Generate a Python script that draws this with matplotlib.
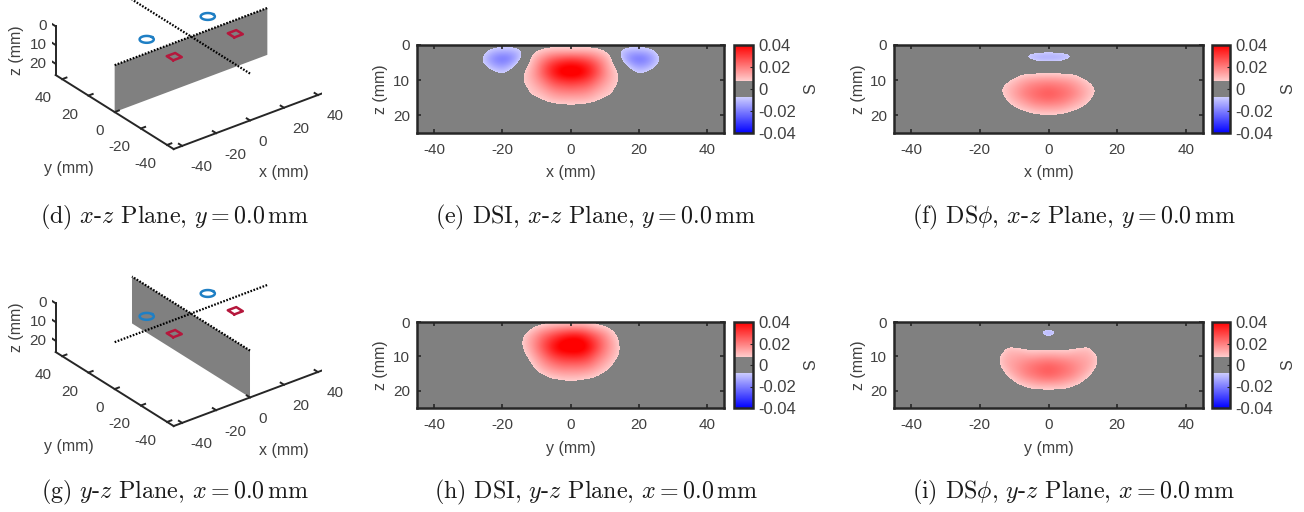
import numpy as np
import matplotlib
matplotlib.use('Agg')
import matplotlib.pyplot as plt
from matplotlib.colors import LinearSegmentedColormap, Normalize
from matplotlib.cm import ScalarMappable
from mpl_toolkits.mplot3d import proj3d

W, H = 1304, 512
plt.rcParams['font.family'] = ['Liberation Sans', 'DejaVu Sans']
plt.rcParams['mathtext.fontset'] = 'cm'
plt.rcParams['axes.unicode_minus'] = False

# sensitivity, in 1e-3 S
x_main = [-16, -14, -12, -10, -8, -6, -4, -2, 0, 2, 4, 6, 8, 10, 12, 14, 16]
z_main = [0, 2, 4, 6, 8, 10, 12, 14, 16, 18, 20]

dsi_xz_main = [
    [0, 1, 2, 3, 4, 4, 4, 4, 4, 4, 4, 4, 4, 3, 2, 1, 0],
    [1, 3, 5, 8, 11, 13, 14, 14, 14, 14, 14, 13, 11, 8, 5, 3, 1],
    [1, 4, 8, 14, 19, 24, 27, 29, 30, 29, 27, 24, 19, 14, 8, 4, 1],
    [1, 5, 10, 17, 25, 32, 37, 40, 41, 40, 37, 32, 25, 17, 10, 5, 1],
    [2, 7, 12, 18, 26, 33, 39, 43, 44, 43, 39, 33, 26, 18, 12, 7, 2],
    [2, 8, 11, 16, 21, 27, 31, 33, 34, 33, 31, 27, 21, 16, 11, 8, 2],
    [1, 6, 9, 12, 16, 20, 23, 24, 25, 24, 23, 20, 16, 12, 9, 6, 1],
    [0, 3, 8, 9, 11, 14, 16, 17, 17, 17, 16, 14, 11, 9, 8, 3, 0],
    [0, 1, 3, 5, 7, 9, 10, 10, 10, 10, 10, 9, 7, 5, 3, 1, 0],
    [0, 0, 0, 0, 1, 2, 3, 4, 5, 4, 3, 2, 1, 0, 0, 0, 0],
    [0, 0, 0, 0, 0, 0, 0, 0, 0, 0, 0, 0, 0, 0, 0, 0, 0],
]
x_lobe_left = [-28, -26, -24, -22, -20, -18, -16, -14, -12]
x_lobe_right = [12, 14, 16, 18, 20, 22, 24, 26, 28]
z_lobe = [0, 2, 4, 6, 8, 10]
dsi_xz_lobe_left = [
    [0, -1, -3, -4, -4, -4, -4, -3, -1],
    [-1, -5, -10, -13, -14, -14, -12, -8, -2],
    [-2, -8, -15, -20, -22, -20, -14, -5, -1],
    [-1, -5, -10, -14, -15, -12, -6, -2, 0],
    [0, -1, -3, -6, -8, -5, -2, 0, 0],
    [0, 0, 0, -1, -1, 0, 0, 0, 0],
]
dsi_xz_lobe_right = [
    [-1, -3, -4, -4, -4, -4, -3, -1, 0],
    [-2, -8, -12, -14, -14, -13, -10, -5, -1],
    [-1, -5, -14, -20, -22, -20, -15, -8, -2],
    [0, -2, -6, -12, -15, -14, -10, -5, -1],
    [0, 0, -2, -5, -8, -6, -3, -1, 0],
    [0, 0, 0, 0, -1, -1, 0, 0, 0],
]

z_deep = [6, 8, 10, 12, 14, 16, 18, 20, 22]
dsphi_xz_main = [
    [0, 0, 0, 1, 1, 1, 1, 1, 1, 1, 1, 1, 1, 1, 0, 0, 0],
    [0, 0, 1, 3, 5, 6, 6, 6, 6, 6, 6, 6, 5, 3, 1, 0, 0],
    [0, 2, 6, 9, 12, 14, 15, 16, 16, 16, 15, 14, 12, 9, 6, 2, 0],
    [1, 7, 10, 13, 16, 19, 21, 22, 23, 22, 21, 19, 16, 13, 10, 7, 1],
    [1, 7, 10, 14, 18, 21, 23, 25, 26, 25, 23, 21, 18, 14, 10, 7, 1],
    [0, 3, 8, 11, 14, 17, 20, 21, 22, 21, 20, 17, 14, 11, 8, 3, 0],
    [0, 0, 3, 7, 9, 11, 13, 14, 14, 14, 13, 11, 9, 7, 3, 0, 0],
    [0, 0, 0, 1, 3, 5, 6, 7, 7, 7, 6, 5, 3, 1, 0, 0, 0],
    [0, 0, 0, 0, 0, 0, 0, 1, 2, 1, 0, 0, 0, 0, 0, 0, 0],
]
x_spot = [-8, -6, -4, -2, 0, 2, 4, 6, 8]
z_spot = [1, 2, 3, 4, 5, 6]
dsphi_xz_spot = [
    [0, 0, 0, -1, -1, -1, 0, 0, 0],
    [-1, -3, -6, -6, -7, -6, -6, -3, -1],
    [-5, -9, -10, -11, -11, -11, -10, -9, -5],
    [-3, -7, -10, -11, -11, -11, -10, -7, -3],
    [-1, -3, -5, -6, -6, -6, -5, -3, -1],
    [0, 0, 0, 0, 0, 0, 0, 0, 0],
]

dsi_yz_main = [
    [0, 0, 1, 2, 3, 5, 5, 6, 6, 6, 6, 5, 3, 2, 1, 0, 0],
    [0, 3, 6, 10, 13, 15, 17, 18, 19, 19, 18, 15, 12, 10, 6, 3, 0],
    [1, 7, 12, 17, 22, 26, 30, 33, 35, 35, 32, 27, 22, 17, 11, 6, 1],
    [2, 9, 14, 20, 27, 33, 38, 42, 44, 44, 40, 34, 27, 20, 14, 8, 1],
    [2, 8, 13, 20, 27, 34, 40, 43, 44, 44, 41, 35, 27, 20, 14, 9, 2],
    [1, 5, 10, 16, 22, 28, 32, 34, 35, 35, 33, 28, 22, 17, 12, 8, 1],
    [0, 3, 7, 12, 17, 21, 24, 26, 26, 26, 25, 22, 17, 13, 9, 4, 0],
    [0, 1, 4, 8, 12, 15, 17, 18, 18, 18, 17, 15, 12, 9, 6, 2, 0],
    [0, 0, 2, 4, 6, 9, 10, 11, 11, 11, 10, 9, 7, 4, 2, 0, 0],
    [0, 0, 0, 1, 2, 3, 4, 5, 5, 5, 4, 3, 2, 1, 0, 0, 0],
    [0, 0, 0, 0, 0, 0, 0, 0, 0, 0, 0, 0, 0, 0, 0, 0, 0],
]

dsphi_yz_main = [
    [0, 2, 3, 2, 1, 1, 0, 0, 0, 0, 0, 1, 1, 2, 3, 2, 0],
    [0, 3, 10, 10, 9, 7, 7, 7, 7, 7, 7, 7, 9, 10, 10, 3, 0],
    [1, 9, 12, 13, 14, 14, 14, 15, 15, 15, 14, 14, 14, 13, 12, 9, 1],
    [1, 9, 13, 15, 17, 19, 21, 22, 23, 22, 21, 19, 17, 15, 13, 9, 1],
    [0, 6, 11, 15, 18, 21, 23, 25, 26, 25, 23, 21, 18, 15, 11, 6, 0],
    [0, 2, 7, 11, 15, 18, 20, 22, 23, 22, 20, 18, 15, 11, 7, 2, 0],
    [0, 0, 2, 6, 9, 11, 13, 14, 14, 14, 13, 11, 9, 6, 2, 0, 0],
    [0, 0, 0, 1, 3, 5, 6, 6, 6, 6, 6, 5, 3, 1, 0, 0, 0],
    [0, 0, 0, 0, 0, 0, 0, 1, 1, 1, 0, 0, 0, 0, 0, 0, 0],
]
x_dot = [-4, -3, -2, -1, 0, 1, 2, 3, 4]
z_dot = [1, 2, 3, 4, 5]
dsphi_yz_dot = [
    [0, 0, 0, 0, 0, 0, 0, 0, 0],
    [0, 0, -3, -5, -6, -5, -3, 0, 0],
    [0, -4, -8, -10, -11, -10, -8, -4, 0],
    [0, -2, -6, -8, -9, -8, -6, -2, 0],
    [0, 0, -1, -2, -3, -2, -1, 0, 0],
]

# electrodes on the surface
ring_x = [-18, 18]
ring_y = [10.5, 10.5]
square_x = [-18, 18]
square_y = [-10.5, -10.5]

map_ticks = [-40, -20, 0, 20, 40]
depth_ticks = [0, 10, 20]
cbar_ticks = [-0.04, -0.02, 0, 0.02, 0.04]
threshold = 0.0076
# the z axis of the 3d views sits a little above the plane top
z_axis_shift = 1

text_col = '#404040'
frame_col = '#262626'
low = 0.5 - threshold / 0.08
high = 0.5 + threshold / 0.08
cmap = LinearSegmentedColormap.from_list('gapped', [
    (0, '#0000ff'), (low, '#ccccff'), (low, '#808080'),
    (high, '#808080'), (high, '#ffcccc'), (1, '#ff0000')], N=1024)
norm = Normalize(-0.04, 0.04)

fig = plt.figure(figsize=(W / 100, H / 100), dpi=100)


def px_axes(left, top, width, height, **kw):
    return fig.add_axes([left / W, 1 - (top + height) / H, width / W, height / H], **kw)


def px_text(x, y, s, **kw):
    kw.setdefault('color', text_col)
    kw.setdefault('fontsize', 11.5)
    kw.setdefault('ha', 'center')
    kw.setdefault('va', 'center')
    fig.text(x / W, 1 - y / H, s, **kw)


def merge_tables(xs, zs, parts):
    # all parts sit on the same 2 mm grid, the stronger value wins
    grid = np.zeros((len(zs), len(xs)))
    for px, pz, table in parts:
        for i, z in enumerate(pz):
            for j, x in enumerate(px):
                a, b = grid[zs.index(z), xs.index(x)], table[i][j]
                grid[zs.index(z), xs.index(x)] = b if abs(b) > abs(a) else a
    return grid


def draw_blob(ax, xs, zs, table):
    dx = xs[1] - xs[0]
    dz = zs[1] - zs[0]
    ax.imshow(np.array(table) * 1e-3, cmap=cmap, norm=norm, aspect='auto',
              interpolation='bicubic', origin='upper',
              extent=(xs[0] - dx / 2, xs[-1] + dx / 2, zs[-1] + dz / 2, zs[0] - dz / 2))


def draw_map(left, top, width, height, cb_left, cb_width, xlabel, blobs):
    ax = px_axes(left, top, width, height)
    ax.set_facecolor('#808080')
    for xs, zs, table in blobs:
        draw_blob(ax, xs, zs, table)
    ax.set_xlim(-45, 45)
    ax.set_ylim(25, 0)
    ax.set_xticks(map_ticks)
    ax.set_yticks(depth_ticks)
    ax.tick_params(direction='in', length=3, width=1.2, color=frame_col, top=True, right=True,
                   labelcolor=text_col, labelsize=11, pad=5)
    ax.tick_params(axis='x', pad=7)
    for s in ax.spines.values():
        s.set_linewidth(1.8)
        s.set_color(frame_col)
    px_text(left + width / 2, top + height + 40, xlabel)
    px_text(left - 36, top + height / 2, 'z (mm)', rotation=90)

    cax = px_axes(cb_left, top, cb_width, height)
    cb = fig.colorbar(ScalarMappable(norm=norm, cmap=cmap), cax=cax, ticks=cbar_ticks, format='%g')
    cb.outline.set_linewidth(1.8)
    cb.outline.set_edgecolor(frame_col)
    cax.tick_params(direction='in', length=2, width=0.8, color=frame_col,
                    labelcolor=text_col, labelsize=12, pad=4)
    px_text(cb_left + cb_width + 58, top + height / 2, 'S', rotation=90)


def scene_label(ax, x, y, z, s, ha):
    # projected by hand so the label is a plain 2d text
    px, py, _ = proj3d.proj_transform(x, y, z, ax.get_proj())
    ax.text2D(px, py, s, transform=ax.transData, ha=ha, va='center',
              color=text_col, fontsize=11, clip_on=False)


def draw_scene(center_y, plane):
    size = 270
    ax = px_axes(191 - 0.5135 * size, center_y - 0.4865 * size, size, size,
                 projection='3d', proj_type='ortho', computed_zorder=False)
    ax.set_xlim(-45, 45)
    ax.set_ylim(-45, 45)
    ax.set_zlim(25, 0)
    ax.set_box_aspect((90, 90, 25))
    ax.view_init(elev=29, azim=-127.7)
    ax.set_axis_off()

    # the cut plane
    P, Z = np.meshgrid([-45, 45], [0, 25])
    if plane == 'xz':
        ax.plot_surface(P, np.zeros_like(P), Z, color='#808080', shade=False, linewidth=0, zorder=1)
    else:
        ax.plot_surface(np.zeros_like(P), P, Z, color='#808080', shade=False, linewidth=0, zorder=1)

    dots = dict(color='black', lw=1.6, ls=(0, (0.75, 0.7)), zorder=2)
    ax.plot([-45, 45], [0, 0], [0, 0], **dots)
    ax.plot([0, 0], [-45, 45], [0, 0], **dots)

    # box edges and ticks
    axis = dict(color=frame_col, lw=1.4, zorder=3)
    ax.plot([-45, 45], [-45, -45], [25, 25], **axis)
    ax.plot([-45, -45], [-45, 45], [25, 25], **axis)
    ax.plot([-45, -45], [45, 45], [-z_axis_shift, 25], **axis)
    for t in map_ticks:
        ax.plot([t, t], [-45, -42.5], [25, 25], **axis)
        ax.plot([-45, -42.5], [t, t], [25, 25], **axis)
        scene_label(ax, t, -51.6, 33.5, str(t), 'left')
        scene_label(ax, -51.2, t, 33, str(t), 'right')
    for t in depth_ticks:
        ax.plot([-45, -45], [45, 47.5], [t - z_axis_shift, t - z_axis_shift], **axis)
        scene_label(ax, -48.3, 47.6, t - z_axis_shift, str(t), 'right')

    # electrodes
    angle = np.linspace(0, 2 * np.pi, 60)
    for cx, cy in zip(ring_x, ring_y):
        ax.plot(cx + 3.3 * np.cos(angle), cy + 3.3 * np.sin(angle), np.zeros_like(angle),
                color='#1f7fc4', lw=1.8, zorder=4)
    for cx, cy in zip(square_x, square_y):
        ax.plot(cx + np.array([-2.5, 2.5, 2.5, -2.5, -2.5]), cy + np.array([-2.5, -2.5, 2.5, 2.5, -2.5]),
                [0, 0, 0, 0, 0], color='#b5173c', lw=1.8, zorder=4)

    off = center_y - 60
    px_text(284, 173 + off, 'x (mm)')
    px_text(69, 169 + off, 'y (mm)')
    px_text(16, 50 + off, 'z (mm)', rotation=90)


draw_scene(60, 'xz')
draw_scene(337, 'yz')

x_full = list(range(-28, 30, 2))
dsi_xz_full = merge_tables(x_full, z_main, [
    (x_main, z_main, dsi_xz_main),
    (x_lobe_left, z_lobe, dsi_xz_lobe_left),
    (x_lobe_right, z_lobe, dsi_xz_lobe_right)])

draw_map(417, 45, 307, 88, 734, 19, 'x (mm)', [(x_full, z_main, dsi_xz_full)])
draw_map(894, 45, 309, 88, 1212, 18, 'x (mm)', [
    (x_main, z_deep, dsphi_xz_main),
    (x_spot, z_spot, dsphi_xz_spot)])
draw_map(417, 322, 307, 86, 734, 19, 'y (mm)', [
    (x_main, z_main, dsi_yz_main)])
draw_map(894, 322, 309, 86, 1212, 18, 'y (mm)', [
    (x_main, z_deep, dsphi_yz_main),
    (x_dot, z_dot, dsphi_yz_dot)])

captions = [
    (175, 217, r'(d) $x$-$z$ Plane, $y=0.0\,$mm'),
    (596, 217, r'(e) DSI, $x$-$z$ Plane, $y=0.0\,$mm'),
    (1074, 217, r'(f) DS$\phi$, $x$-$z$ Plane, $y=0.0\,$mm'),
    (175, 492, r'(g) $y$-$z$ Plane, $x=0.0\,$mm'),
    (596, 492, r'(h) DSI, $y$-$z$ Plane, $x=0.0\,$mm'),
    (1074, 492, r'(i) DS$\phi$, $y$-$z$ Plane, $x=0.0\,$mm'),
]
for cx, cy, s in captions:
    px_text(cx, cy, s, family='cmr10', fontsize=17.3, color='#1a1a1a')

fig.savefig('out.png', dpi=100)
